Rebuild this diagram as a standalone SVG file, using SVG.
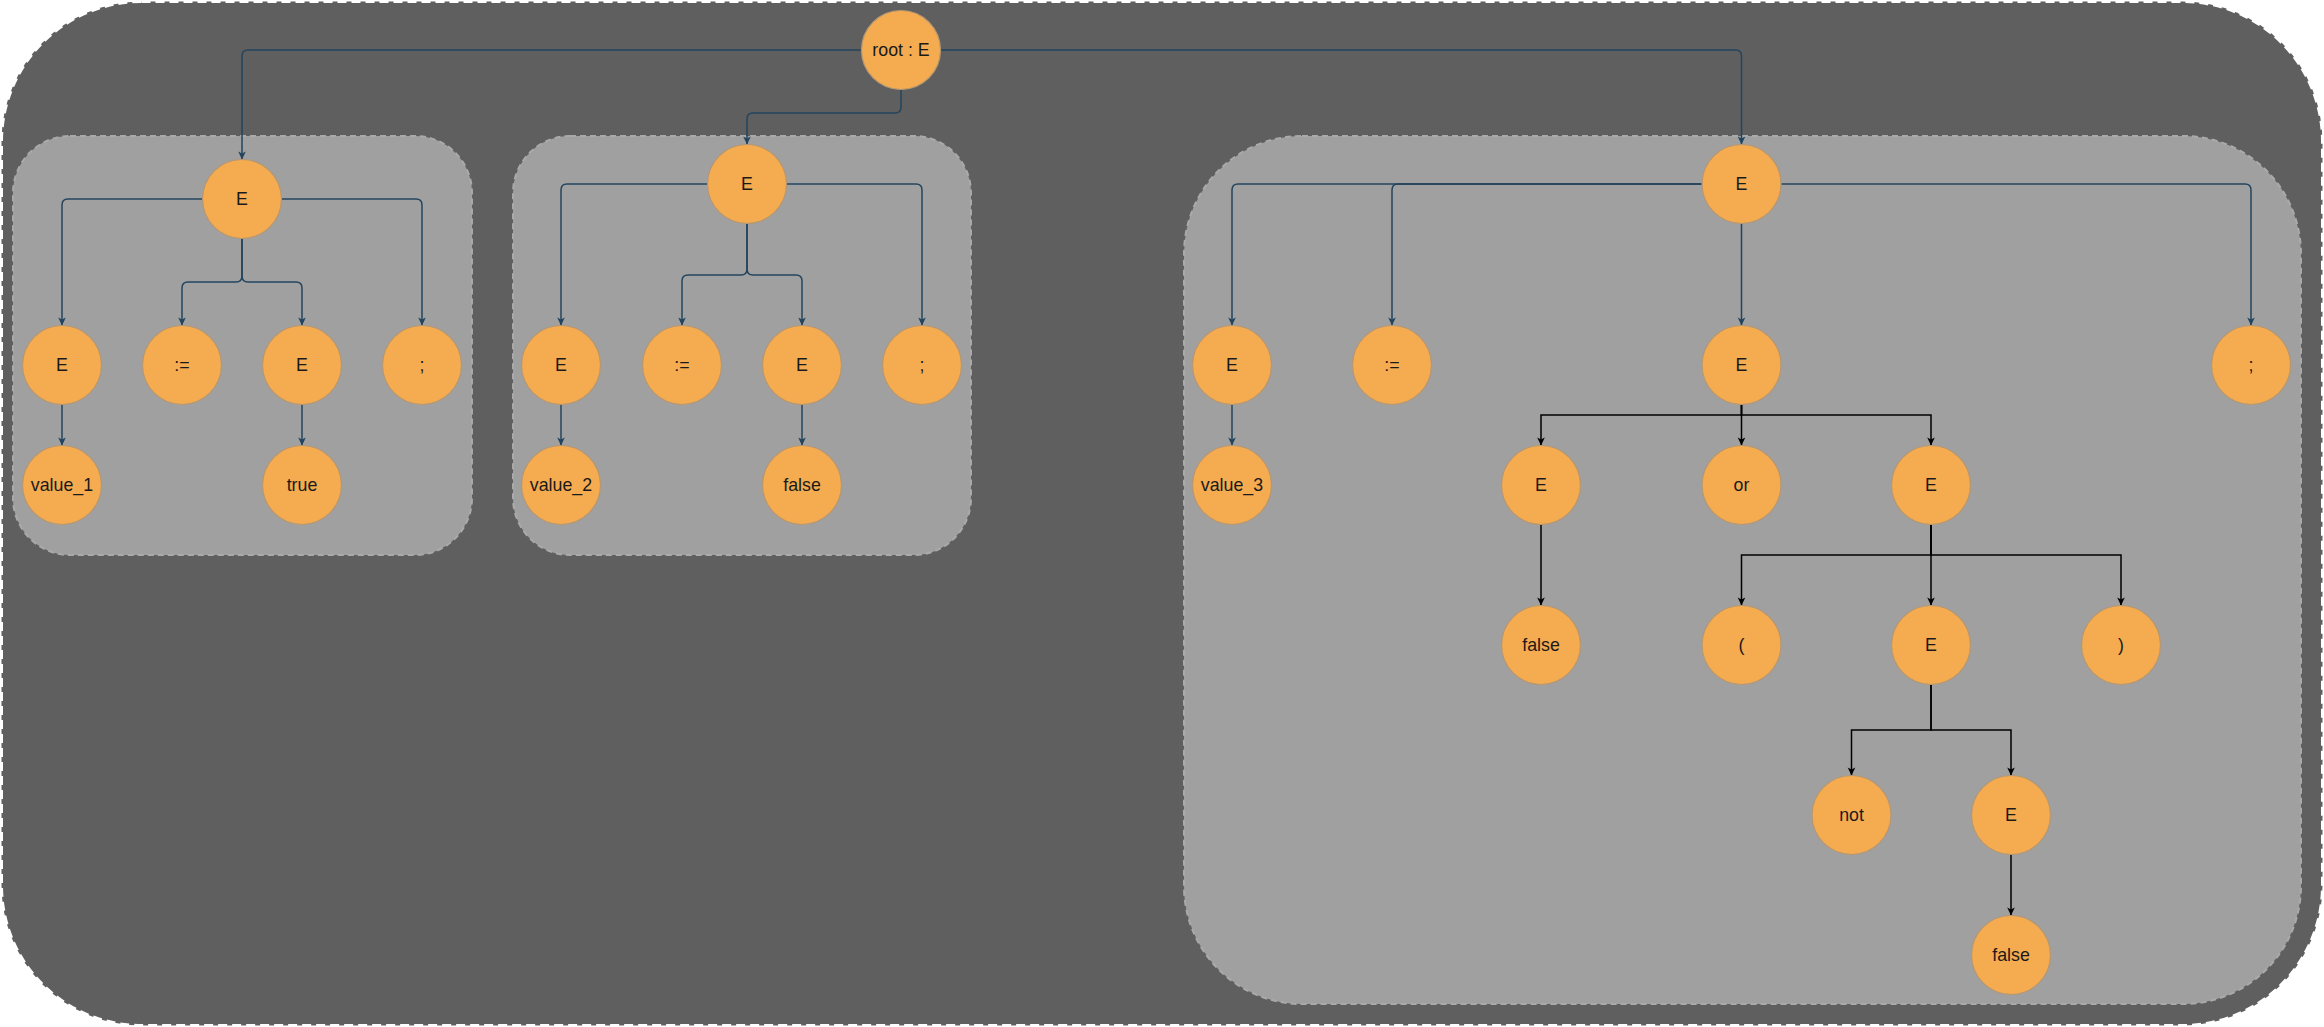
<svg xmlns="http://www.w3.org/2000/svg" width="2324" height="1027" viewBox="0 0 2324 1027">
<style>
.outer{fill:#5f5f5f;stroke:#ffffff;stroke-width:3;stroke-dasharray:9 5}
.box{fill:#a0a0a0;stroke:#aaaaaa;stroke-width:2;stroke-dasharray:6 4}
.node circle{fill:#f5ab50;stroke:#b59772;stroke-width:1.2}
.node text{font-family:"Liberation Sans",Arial,sans-serif;font-size:17.8px;fill:#1a1a1a;text-anchor:middle}
.nv{fill:none;stroke:#23445d;stroke-width:1.5;marker-end:url(#an)}
.bk{fill:none;stroke:#000000;stroke-width:1.5;marker-end:url(#ab)}
</style>
<defs>
<marker id="an" markerUnits="userSpaceOnUse" markerWidth="12" markerHeight="12" viewBox="-10 -6 12 12" refX="0" refY="0" orient="auto">
<path d="M0,0 L-8,-3.8 L-6,0 L-8,3.8 Z" fill="#23445d"/>
</marker>
<marker id="ab" markerUnits="userSpaceOnUse" markerWidth="12" markerHeight="12" viewBox="-10 -6 12 12" refX="0" refY="0" orient="auto">
<path d="M0,0 L-8,-3.8 L-6,0 L-8,3.8 Z" fill="#000000"/>
</marker>
</defs>
<g id="containers">
<rect id="outer" class="outer" x="1.5" y="1.5" width="2321" height="1024" rx="140" ry="140"/>
<rect id="box1" class="box" x="13" y="136" width="459" height="419" rx="57" ry="57"/>
<rect id="box2" class="box" x="513" y="136" width="458" height="419" rx="57" ry="57"/>
<rect id="box3" class="box" x="1184" y="136" width="1117" height="868" rx="118" ry="118"/>
</g>
<g id="connectors">
<path class="nv" d="M861,50 H248 Q242,50 242,56 V159.5"/>
<path class="nv" d="M901,90 V107 Q901,113 895,113 H753 Q747,113 747,119 V144.5"/>
<path class="nv" d="M941,50 H1735.5 Q1741.5,50 1741.5,56 V144.5"/>
<path class="nv" d="M202.5,199 H68 Q62,199 62,205 V325.5"/>
<path class="nv" d="M281.5,199 H416 Q422,199 422,205 V325.5"/>
<path class="nv" d="M242,238.5 V276 Q242,282 236,282 H188 Q182,282 182,288 V325.5"/>
<path class="nv" d="M242,238.5 V276 Q242,282 248,282 H296 Q302,282 302,288 V325.5"/>
<path class="nv" d="M62,404.5 V445.5"/>
<path class="nv" d="M302,404.5 V445.5"/>
<path class="nv" d="M707.5,184 H567 Q561,184 561,190 V325.5"/>
<path class="nv" d="M786.5,184 H916 Q922,184 922,190 V325.5"/>
<path class="nv" d="M747,223.5 V269 Q747,275 741,275 H688 Q682,275 682,281 V325.5"/>
<path class="nv" d="M747,223.5 V269 Q747,275 753,275 H796 Q802,275 802,281 V325.5"/>
<path class="nv" d="M561,404.5 V445.5"/>
<path class="nv" d="M802,404.5 V445.5"/>
<path class="nv" d="M1702,184 H1238 Q1232,184 1232,190 V325.5"/>
<path class="nv" d="M1702,184 H1398 Q1392,184 1392,190 V325.5"/>
<path class="nv" d="M1781,184 H2245 Q2251,184 2251,190 V325.5"/>
<path class="nv" d="M1741.5,223.5 V325.5"/>
<path class="nv" d="M1232,404.5 V445.5"/>
<path class="bk" d="M1741.5,404.5 V415 H1541 V445.5"/>
<path class="bk" d="M1741.5,404.5 V445.5"/>
<path class="bk" d="M1741.5,404.5 V415 H1931 V445.5"/>
<path class="bk" d="M1541,524.5 V605.5"/>
<path class="bk" d="M1931,524.5 V555 H1741.5 V605.5"/>
<path class="bk" d="M1931,524.5 V605.5"/>
<path class="bk" d="M1931,524.5 V555 H2121 V605.5"/>
<path class="bk" d="M1931,684.5 V730 H1851.5 V775.5"/>
<path class="bk" d="M1931,684.5 V730 H2011 V775.5"/>
<path class="bk" d="M2011,854.5 V915.5"/>
</g>
<g id="n_root" class="node"><circle cx="901" cy="50" r="39.5"/><text x="901" y="56.3">root : E</text></g>
<g id="n1_E" class="node"><circle cx="242" cy="199" r="39.5"/><text x="242" y="205.3">E</text></g>
<g id="n1_E1" class="node"><circle cx="62" cy="365" r="39.5"/><text x="62" y="371.3">E</text></g>
<g id="n1_assign" class="node"><circle cx="182" cy="365" r="39.5"/><text x="182" y="371.3">:=</text></g>
<g id="n1_E2" class="node"><circle cx="302" cy="365" r="39.5"/><text x="302" y="371.3">E</text></g>
<g id="n1_semi" class="node"><circle cx="422" cy="365" r="39.5"/><text x="422" y="371.3">;</text></g>
<g id="n1_value" class="node"><circle cx="62" cy="485" r="39.5"/><text x="62" y="491.3">value_1</text></g>
<g id="n1_true" class="node"><circle cx="302" cy="485" r="39.5"/><text x="302" y="491.3">true</text></g>
<g id="n2_E" class="node"><circle cx="747" cy="184" r="39.5"/><text x="747" y="190.3">E</text></g>
<g id="n2_E1" class="node"><circle cx="561" cy="365" r="39.5"/><text x="561" y="371.3">E</text></g>
<g id="n2_assign" class="node"><circle cx="682" cy="365" r="39.5"/><text x="682" y="371.3">:=</text></g>
<g id="n2_E2" class="node"><circle cx="802" cy="365" r="39.5"/><text x="802" y="371.3">E</text></g>
<g id="n2_semi" class="node"><circle cx="922" cy="365" r="39.5"/><text x="922" y="371.3">;</text></g>
<g id="n2_value" class="node"><circle cx="561" cy="485" r="39.5"/><text x="561" y="491.3">value_2</text></g>
<g id="n2_false" class="node"><circle cx="802" cy="485" r="39.5"/><text x="802" y="491.3">false</text></g>
<g id="n3_E" class="node"><circle cx="1741.5" cy="184" r="39.5"/><text x="1741.5" y="190.3">E</text></g>
<g id="n3_E1" class="node"><circle cx="1232" cy="365" r="39.5"/><text x="1232" y="371.3">E</text></g>
<g id="n3_assign" class="node"><circle cx="1392" cy="365" r="39.5"/><text x="1392" y="371.3">:=</text></g>
<g id="n3_E2" class="node"><circle cx="1741.5" cy="365" r="39.5"/><text x="1741.5" y="371.3">E</text></g>
<g id="n3_semi" class="node"><circle cx="2251" cy="365" r="39.5"/><text x="2251" y="371.3">;</text></g>
<g id="n3_value" class="node"><circle cx="1232" cy="485" r="39.5"/><text x="1232" y="491.3">value_3</text></g>
<g id="n3_Ea" class="node"><circle cx="1541" cy="485" r="39.5"/><text x="1541" y="491.3">E</text></g>
<g id="n3_or" class="node"><circle cx="1741.5" cy="485" r="39.5"/><text x="1741.5" y="491.3">or</text></g>
<g id="n3_Eb" class="node"><circle cx="1931" cy="485" r="39.5"/><text x="1931" y="491.3">E</text></g>
<g id="n3_false1" class="node"><circle cx="1541" cy="645" r="39.5"/><text x="1541" y="651.3">false</text></g>
<g id="n3_lpar" class="node"><circle cx="1741.5" cy="645" r="39.5"/><text x="1741.5" y="651.3">(</text></g>
<g id="n3_Ec" class="node"><circle cx="1931" cy="645" r="39.5"/><text x="1931" y="651.3">E</text></g>
<g id="n3_rpar" class="node"><circle cx="2121" cy="645" r="39.5"/><text x="2121" y="651.3">)</text></g>
<g id="n3_not" class="node"><circle cx="1851.5" cy="815" r="39.5"/><text x="1851.5" y="821.3">not</text></g>
<g id="n3_Ed" class="node"><circle cx="2011" cy="815" r="39.5"/><text x="2011" y="821.3">E</text></g>
<g id="n3_false2" class="node"><circle cx="2011" cy="955" r="39.5"/><text x="2011" y="961.3">false</text></g>
</svg>
